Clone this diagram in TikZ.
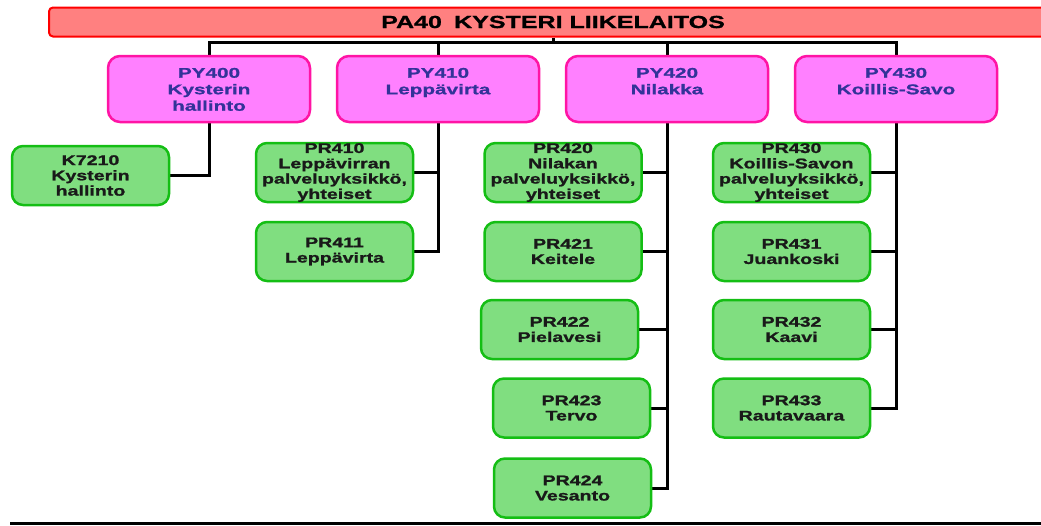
\documentclass[tikz,border=0pt]{standalone}
\usepackage{fontspec}
\setmainfont{Liberation Sans}
\newfontfamily\titlefont[FakeStretch=1.43,FakeBold=1]{Liberation Sans Bold}
\newfontfamily\pyfont[FakeStretch=1.48,FakeBold=0.9]{Liberation Sans Bold}
\newfontfamily\grfont[FakeStretch=1.4,FakeBold=1.3]{Liberation Sans Bold}
\usetikzlibrary{backgrounds}
\definecolor{titlefill}{RGB}{255,128,128}
\definecolor{titledraw}{RGB}{255,0,0}
\definecolor{pyfill}{RGB}{255,128,255}
\definecolor{pydraw}{RGB}{255,20,165}
\definecolor{pytext}{RGB}{51,51,153}
\definecolor{grfill}{RGB}{128,222,128}
\definecolor{grdraw}{RGB}{20,190,20}
\tikzset{
  titlebox/.style={draw=titledraw, fill=titlefill, line width=2pt, rounded corners=4pt,
    minimum width=1008pt, minimum height=29pt, inner sep=0pt,
    font=\titlefont\fontsize{17.5}{20}\selectfont},
  pybox/.style={draw=pydraw, fill=pyfill, line width=2.5pt, rounded corners=12pt,
    minimum width=202pt, minimum height=66pt, inner sep=0pt, text=pytext},
  grbox/.style={draw=grdraw, fill=grfill, line width=2.5pt, rounded corners=11pt,
    minimum width=157pt, minimum height=59pt, inner sep=0pt, align=center,
    font=\grfont\fontsize{14}{15.3}\selectfont, text=black!90},
  conn/.style={draw=black, line width=3pt}
}
\newcommand{\pytxt}[1]{\parbox[c][66pt][t]{196pt}{\centering\pyfont\fontsize{14}{16.5}\selectfont\rule{0pt}{21.7pt}#1}}
\begin{document}
\begin{tikzpicture}[x=1pt,y=-1pt]
\useasboundingbox (0,0) rectangle (1041,525);
\begin{scope}
\clip (0,0) rectangle (1041,525);
\node[titlebox] (top) at (553,22) {PA40\hspace{0.3em} KYSTERI LIIKELAITOS};
\end{scope}
\coordinate (bus) at (553,42);

\node[pybox] (py400) at (209,89) {\pytxt{PY400\\Kysterin\\hallinto}};
\node[pybox] (py410) at (438,89) {\pytxt{PY410\\Leppävirta}};
\node[pybox] (py420) at (667,89) {\pytxt{PY420\\Nilakka}};
\node[pybox] (py430) at (896,89) {\pytxt{PY430\\Koillis-Savo}};

\node[grbox] (k7210) at (90.5,175.5) {K7210\\Kysterin\\hallinto};
\node[grbox] (pr410) at (334.5,172.5) {PR410\\Leppävirran\\palveluyksikkö,\\yhteiset};
\node[grbox] (pr411) at (334.5,251.5) {PR411\\Leppävirta};
\node[grbox] (pr420) at (563,172.5) {PR420\\Nilakan\\palveluyksikkö,\\yhteiset};
\node[grbox] (pr421) at (563,251.5) {PR421\\Keitele};
\node[grbox] (pr422) at (559.5,329.5) {PR422\\Pielavesi};
\node[grbox] (pr423) at (571.5,408) {PR423\\Tervo};
\node[grbox] (pr424) at (572.5,488) {PR424\\Vesanto};
\node[grbox] (pr430) at (791.5,172.5) {PR430\\Koillis-Savon\\palveluyksikkö,\\yhteiset};
\node[grbox] (pr431) at (791.5,251.5) {PR431\\Juankoski};
\node[grbox] (pr432) at (791.5,329.5) {PR432\\Kaavi};
\node[grbox] (pr433) at (791.5,408) {PR433\\Rautavaara};

\begin{scope}[on background layer]
\draw[conn] (top.south) -- (bus);
\draw[conn] (py400.north) |- (bus) -| (py430.north);
\draw[conn] (py410.north) -- (py410.north |- bus);
\draw[conn] (py420.north) -- (py420.north |- bus);

\draw[conn] (py400.south) |- (k7210.east);

\draw[conn] (py410.south) |- (pr411.east);
\draw[conn] (pr410.east) -- (pr410.east -| py410.south);

\draw[conn] (py420.south) |- (pr424.east);
\draw[conn] (pr420.east) -- (pr420.east -| py420.south);
\draw[conn] (pr421.east) -- (pr421.east -| py420.south);
\draw[conn] (pr422.east) -- (pr422.east -| py420.south);
\draw[conn] (pr423.east) -- (pr423.east -| py420.south);

\draw[conn] (py430.south) |- (pr433.east);
\draw[conn] (pr430.east) -- (pr430.east -| py430.south);
\draw[conn] (pr431.east) -- (pr431.east -| py430.south);
\draw[conn] (pr432.east) -- (pr432.east -| py430.south);
\end{scope}

\fill[black] (10,521.5) rectangle (1041,525);
\end{tikzpicture}
\end{document}
